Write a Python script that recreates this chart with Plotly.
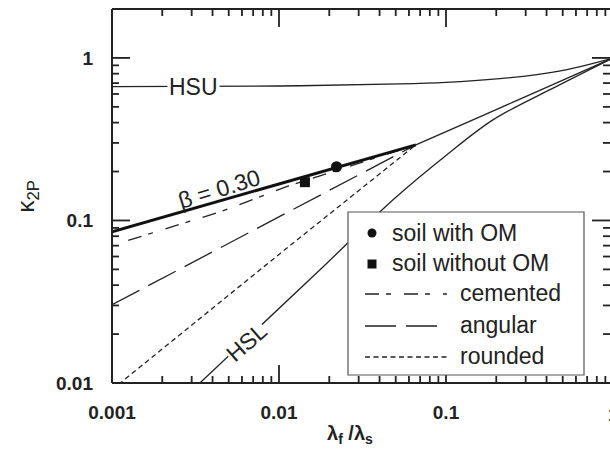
import math
import plotly.graph_objects as go

# ---- data (lambda_f / lambda_s vs kappa_2P) ----
hsu_x = [0.001, 0.01, 0.053, 0.1, 0.21, 0.35, 0.53, 0.835, 1.0]
hsu_y = [0.665, 0.672, 0.692, 0.708, 0.746, 0.79, 0.847, 0.948, 1.0]

hsl_x = [0.00336, 0.0176, 0.0482, 0.1, 0.192, 0.42, 1.0]
hsl_y = [0.01, 0.0497, 0.134, 0.251, 0.417, 0.638, 1.0]

merged_x = [0.066, 0.145, 0.4, 1.0]
merged_y = [0.292, 0.416, 0.659, 1.0]

beta_x = [0.001, 0.01, 0.066]
beta_y = [0.0853, 0.168, 0.292]

cemented_x = [0.00125, 0.0045, 0.0112, 0.066]
cemented_y = [0.0753, 0.1135, 0.162, 0.292]

angular_x = [0.001, 0.01, 0.066]
angular_y = [0.0303, 0.105, 0.292]

rounded_x = [0.001, 0.01, 0.066]
rounded_y = [0.0091, 0.0618, 0.292]

om_x, om_y = [0.0221], [0.214]
no_om_x, no_om_y = [0.0143], [0.172]

legend_labels = ["soil with OM", "soil without OM", "cemented", "angular", "rounded"]

x_ticks = [0.001, 0.01, 0.1, 1]
x_ticktext = ["0.001", "0.01", "0.1", "1"]
y_ticks = [0.01, 0.1, 1]
y_ticktext = ["0.01", "0.1", "1"]

INK = "#222222"
DASH_CEM = "14px,7px,5px,13px"
DASH_ANG = "31px,10px"
DASH_RND = "5px,3.5px"

W, H = 610, 466
ML, MR, MT, MB = 112, 0, 9, 83
PW, PH = W - ML - MR, H - MT - MB
X_RANGE = [-3, -3 + PW / 167.0]
Y_RANGE = [-2, 0.301]


def px(xp):
    return (xp - ML) / PW


def py(yp):
    return (H - MB - yp) / PH


fig = go.Figure()

thin = dict(color=INK, width=1.3)
fig.add_trace(go.Scatter(x=hsu_x, y=hsu_y, mode="lines", line=dict(thin, shape="spline")))
fig.add_trace(go.Scatter(x=hsl_x, y=hsl_y, mode="lines", line=dict(thin, shape="spline")))
fig.add_trace(go.Scatter(x=merged_x, y=merged_y, mode="lines", line=dict(thin, shape="spline")))
fig.add_trace(go.Scatter(x=rounded_x, y=rounded_y, mode="lines", line=dict(thin, dash=DASH_RND)))
fig.add_trace(go.Scatter(x=angular_x, y=angular_y, mode="lines", line=dict(thin, dash=DASH_ANG)))
fig.add_trace(go.Scatter(x=cemented_x, y=cemented_y, mode="lines", line=dict(thin, dash=DASH_CEM)))
fig.add_trace(go.Scatter(x=beta_x, y=beta_y, mode="lines", line=dict(color="#111111", width=3)))
fig.add_trace(go.Scatter(x=om_x, y=om_y, mode="markers",
                         marker=dict(symbol="circle", size=11, color="#111111")))
fig.add_trace(go.Scatter(x=no_om_x, y=no_om_y, mode="markers",
                         marker=dict(symbol="square", size=10, color="#111111")))

# inward tick marks on all four sides (major 18 px, minor 7 px)
MAJ, MIN = 18.0, 7.0
segs = []
for e in (-3, -2, -1):
    for k in range(1, 10):
        f = (e + math.log10(k) - X_RANGE[0]) / (X_RANGE[1] - X_RANGE[0])
        if not 0 <= f <= 1:
            continue
        ln = (MAJ if k == 1 else MIN) / PH
        segs.append((f, 0, f, ln))
        segs.append((f, 1, f, 1 - ln))
for e in (-2, -1, 0):
    for k in range(1, 10):
        f = (e + math.log10(k) - Y_RANGE[0]) / (Y_RANGE[1] - Y_RANGE[0])
        if not 0 <= f <= 1:
            continue
        ln = (MAJ if k == 1 else MIN) / PW
        segs.append((0, f, ln, f))
        segs.append((1, f, 1 - ln, f))
for x0, y0, x1, y1 in segs:
    fig.add_shape(type="line", xref="paper", yref="paper", x0=x0, y0=y0, x1=x1, y1=y1,
                  line=dict(color=INK, width=1.8), layer="above")

# frame: left, bottom and top sides
for x0, y0, x1, y1 in [(0, 0, 0, 1), (0, 0, 1, 0), (0, 1, 1, 1)]:
    fig.add_shape(type="line", xref="paper", yref="paper", x0=x0, y0=y0, x1=x1, y1=y1,
                  line=dict(color=INK, width=2), layer="above")

tickfont = dict(family="Liberation Sans", size=19, color=INK, weight="bold")

fig.update_layout(
    width=W, height=H,
    margin=dict(l=ML, r=MR, t=MT, b=MB),
    paper_bgcolor="white", plot_bgcolor="white",
    showlegend=False,
    xaxis=dict(type="log", range=X_RANGE, showline=False, ticks="", tickmode="array",
               tickvals=x_ticks, ticktext=x_ticktext, tickfont=tickfont,
               ticklabelstandoff=16, showgrid=False, zeroline=False),
    yaxis=dict(type="log", range=Y_RANGE, showline=False, ticks="", tickmode="array",
               tickvals=y_ticks, ticktext=y_ticktext, tickfont=tickfont,
               ticklabelstandoff=18, showgrid=False, zeroline=False),
)

# the "1" label of the x axis sits at the very right edge
fig.add_annotation(x=px(613), y=py(415), xref="paper", yref="paper", text="1",
                   showarrow=False, font=tickfont, xanchor="center", yanchor="middle")

# axis titles
fig.add_annotation(x=px(350), y=py(449), xref="paper", yref="paper",
                   text="<b>λ<sub>f</sub> /λ<sub>s</sub></b>", showarrow=False,
                   font=dict(family="Liberation Sans", size=20, color=INK))
fig.add_annotation(x=px(9), y=py(196), xref="paper", yref="paper",
                   text="κ<sub>2P</sub>", textangle=-90, showarrow=False,
                   font=dict(family="Liberation Sans", size=24, color=INK))

# curve labels
lab_font = dict(family="Liberation Sans", size=23, color=INK)
fig.add_annotation(x=-2.515, y=-0.177, text="HSU", showarrow=False, font=lab_font,
                   bgcolor="white", borderpad=1)
fig.add_annotation(x=-2.192, y=-1.747, text="HSL", textangle=-41, showarrow=False,
                   font=lab_font, bgcolor="white", borderpad=0)
fig.add_annotation(x=-2.359, y=-0.805, text="β = 0.30", textangle=-17, showarrow=False,
                   font=lab_font)

# legend box
fig.add_shape(type="rect", xref="paper", yref="paper",
              x0=px(348), x1=px(584), y0=py(375), y1=py(212),
              line=dict(color="#555555", width=1.2), fillcolor="white", layer="above")
rows = [233, 263, 293, 325, 356]
fig.add_shape(type="circle", xref="paper", yref="paper",
              x0=px(367.5), x1=px(376.5), y0=py(rows[0] + 4.5), y1=py(rows[0] - 4.5),
              line=dict(width=0), fillcolor="#111111", layer="above")
fig.add_shape(type="rect", xref="paper", yref="paper",
              x0=px(367.5), x1=px(376.5), y0=py(rows[1] + 5.5), y1=py(rows[1] - 3.5),
              line=dict(width=0), fillcolor="#111111", layer="above")
for r, d in zip(rows[2:], [DASH_CEM, DASH_ANG, DASH_RND]):
    fig.add_shape(type="line", xref="paper", yref="paper",
                  x0=px(365), x1=px(447), y0=py(r + 1), y1=py(r + 1),
                  line=dict(color=INK, width=1.3, dash=d), layer="above")
for i, (r, t) in enumerate(zip(rows, legend_labels)):
    fig.add_annotation(x=px(390 if i < 2 else 458), y=py(r), xref="paper", yref="paper",
                       text=t, showarrow=False, xanchor="left", yanchor="middle",
                       font=dict(family="Liberation Sans", size=23, color=INK))

fig.write_html("out.html")
